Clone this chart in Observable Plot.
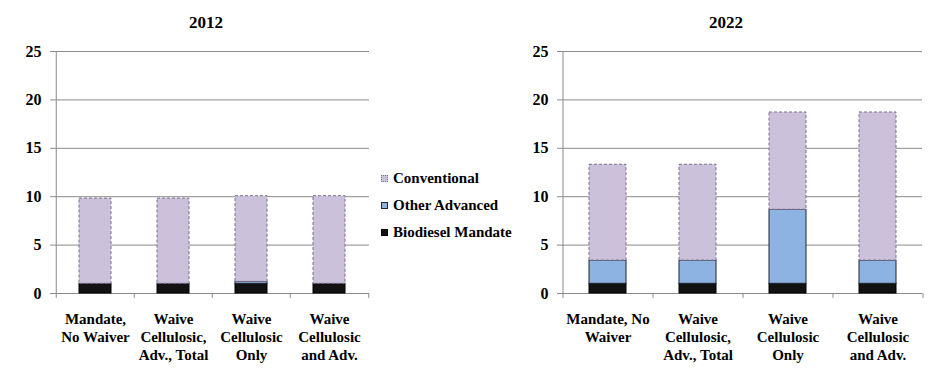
<!DOCTYPE html>
<html><head><meta charset="utf-8">
<script src="https://cdn.jsdelivr.net/npm/d3@7"></script>
<script src="https://cdn.jsdelivr.net/npm/@observablehq/plot@0.6"></script>
<style>
body{margin:0;background:#fff;}
#root{position:relative;width:943px;height:382px;font-family:"Liberation Serif","LiberationSerif","Tinos","DejaVu Serif",serif;color:#000;overflow:hidden;}
.title{position:absolute;top:13px;font-weight:bold;font-size:17px;transform:translateX(-50%);white-space:nowrap;}
.chart{position:absolute;top:0;}
#legend{position:absolute;left:381px;top:165px;font-weight:bold;font-size:15px;}
.item{display:flex;align-items:center;height:27px;}
.sw{width:7px;height:7px;margin-right:5px;box-sizing:border-box;}
svg text{font-family:"Liberation Serif","LiberationSerif","Tinos","DejaVu Serif",serif;}
</style>
</head><body>
<div id="root"></div>
<script>
// ---- data ----
const years = ["2012", "2022"];
const categories2012 = ["Mandate,\nNo Waiver", "Waive\nCellulosic,\nAdv., Total", "Waive\nCellulosic\nOnly", "Waive\nCellulosic\nand Adv."];
const categories2022 = ["Mandate, No\nWaiver", "Waive\nCellulosic,\nAdv., Total", "Waive\nCellulosic\nOnly", "Waive\nCellulosic\nand Adv."];
const seriesNames = ["Biodiesel Mandate", "Other Advanced", "Conventional"];
const biodiesel2012 = [1.0, 1.0, 1.0, 1.0];
const otherAdvanced2012 = [0, 0, 0.2, 0];
const conventional2012 = [8.8, 8.8, 8.85, 9.05];
const biodiesel2022 = [1.0, 1.0, 1.0, 1.0];
const otherAdvanced2022 = [2.4, 2.4, 7.65, 2.4];
const conventional2022 = [9.9, 9.9, 10.05, 15.3];
const yTicks = [0, 5, 10, 15, 20, 25];

// ---- styles ----
const FONT = "'Liberation Serif', 'LiberationSerif', 'Tinos', 'DejaVu Serif', serif";
const styles = {
  "Biodiesel Mandate": {fill: "#121212", stroke: "#000", dash: null},
  "Other Advanced": {fill: "#8db3e2", stroke: "#1e2430", dash: null},
  "Conventional": {fill: "#ccc1da", stroke: "#7a6c8c", dash: "3,2"}
};

function rowsFor(cats, arrays) {
  const rows = [];
  cats.forEach((c, i) => {
    let base = 0;
    seriesNames.forEach((s, k) => {
      const v = arrays[k][i];
      rows.push({cat: c, series: s, value: v, y1: base, y2: base + v});
      base += v;
    });
  });
  return rows;
}

function chart(cats, arrays, width, marginLeft, marginRight) {
  const rows = rowsFor(cats, arrays);
  const step = (width - marginLeft - marginRight) / cats.length;
  const barMarks = seriesNames.map(s => Plot.barY(rows.filter(d => d.series === s && d.value > 0), {
    x: "cat", y1: "y1", y2: "y2",
    fill: styles[s].fill, stroke: styles[s].stroke,
    strokeWidth: 1, strokeDasharray: styles[s].dash
  }));
  return Plot.plot({
    width, height: 382,
    marginLeft, marginRight, marginTop: 51, marginBottom: 89,
    style: {fontFamily: FONT, color: "#000", background: "transparent"},
    x: {domain: cats, paddingInner: 0.59, paddingOuter: 0.295, label: null},
    y: {domain: [0, 25], label: null},
    marks: [
      Plot.ruleY(yTicks, {stroke: "#8a8a8a", strokeWidth: 1}),
      Plot.ruleX([cats[0]], {dx: -step / 2, y1: 0, y2: 25, stroke: "#8a8a8a"}),
      Plot.ruleX(cats, {dx: -step / 2, y1: -0.5, y2: 0, stroke: "#8a8a8a"}),
      Plot.ruleX([cats[cats.length - 1]], {dx: step / 2, y1: -0.5, y2: 0, stroke: "#8a8a8a"}),
      ...barMarks,
      Plot.axisY({ticks: yTicks, tickSize: 5, tickPadding: 9, fontSize: 16, fontWeight: "bold", stroke: "#8a8a8a", fill: "#000"}),
      Plot.axisX({tickSize: 0, tickPadding: 17, fontSize: 15, fontWeight: "bold", lineHeight: 1.22, fill: "#000"})
    ]
  });
}

const root = document.getElementById("root");
const c1 = chart(categories2012, [biodiesel2012, otherAdvanced2012, conventional2012], 370, 55, 1);
c1.classList.add("chart"); c1.style.left = "0px";
root.appendChild(c1);
const c2 = chart(categories2022, [biodiesel2022, otherAdvanced2022, conventional2022], 430, 55, 15);
c2.classList.add("chart"); c2.style.left = "507px";
root.appendChild(c2);

[[years[0], 206], [years[1], 726]].forEach(([t, x]) => {
  const d = document.createElement("div");
  d.className = "title"; d.textContent = t; d.style.left = x + "px";
  root.appendChild(d);
});

const legend = document.createElement("div");
legend.id = "legend";
[...seriesNames].reverse().forEach(s => {
  const it = document.createElement("div"); it.className = "item";
  const sw = document.createElement("div"); sw.className = "sw";
  sw.style.background = styles[s].fill;
  sw.style.border = "1px " + (styles[s].dash ? "dotted " : "solid ") + styles[s].stroke;
  const tx = document.createElement("span"); tx.textContent = s;
  it.appendChild(sw); it.appendChild(tx); legend.appendChild(it);
});
root.appendChild(legend);
</script>
</body></html>
